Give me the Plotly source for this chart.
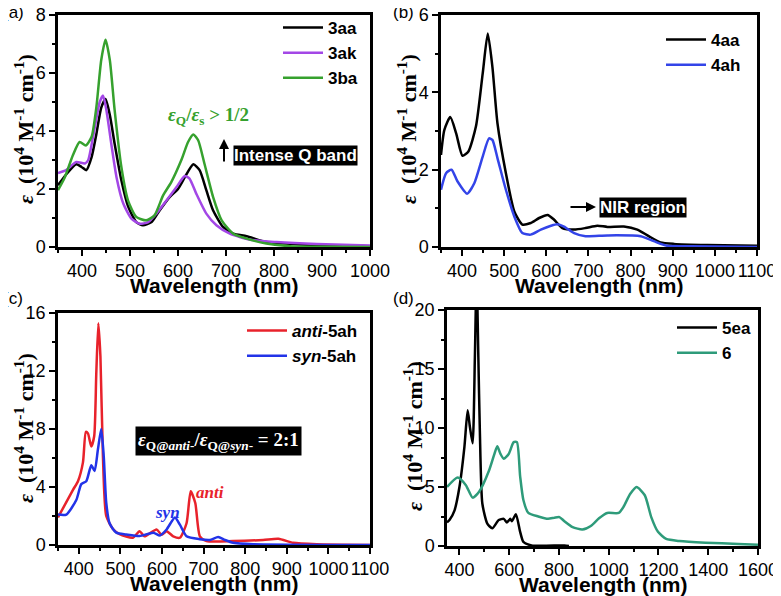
import plotly.graph_objects as go

OFF = 8
FW, FH = 781 - OFF, 596 - OFF

# ---------------- data ----------------
# (a)
wl_3aa = [350, 367, 388, 399, 409, 420, 430, 440, 449, 458, 468, 482, 496, 513, 527, 545, 562, 583, 600, 614, 632, 645, 659, 673, 694, 715, 743, 784, 854, 923, 1000]
ep_3aa = [2.13, 2.5, 2.85, 2.76, 2.65, 3.1, 3.9, 4.8, 5.1, 4.55, 3.56, 2.3, 1.4, 0.86, 0.75, 0.86, 1.27, 1.73, 2.0, 2.4, 2.85, 2.65, 1.96, 1.27, 0.69, 0.46, 0.37, 0.17, 0.09, 0.05, 0.03]
wl_3ak = [350, 367, 388, 406, 413, 423, 437, 444, 451, 461, 472, 486, 503, 520, 538, 555, 576, 597, 614, 624, 638, 659, 680, 708, 750, 805, 889, 1000]
ep_3ak = [2.55, 2.65, 2.93, 2.88, 3.0, 3.8, 5.0, 5.22, 4.7, 3.56, 2.4, 1.5, 0.98, 0.8, 0.86, 1.15, 1.6, 2.07, 2.45, 2.36, 1.84, 1.15, 0.75, 0.46, 0.25, 0.17, 0.1, 0.05]
wl_3ba = [350, 364, 381, 395, 408, 420, 430, 440, 449, 458, 468, 482, 496, 513, 534, 551, 569, 586, 607, 621, 632, 642, 655, 673, 691, 715, 743, 784, 833, 923, 1000]
ep_3ba = [1.96, 2.4, 3.16, 3.62, 3.5, 3.8, 4.83, 6.44, 7.15, 6.44, 4.72, 2.76, 1.6, 1.04, 0.92, 1.09, 1.78, 2.24, 3.0, 3.62, 3.88, 3.68, 2.88, 1.73, 0.92, 0.46, 0.29, 0.12, 0.03, 0.01, 0.0]
# (b)
wl_4aa = [350, 358, 372, 386, 401, 415, 433, 449, 461, 472, 484, 504, 524, 543, 563, 583, 603, 618, 638, 666, 693, 721, 745, 784, 816, 843, 871, 903, 982, 1100]
ep_4aa = [2.38, 3.03, 3.36, 2.94, 2.36, 2.47, 3.12, 4.49, 5.52, 4.66, 3.2, 1.91, 0.92, 0.58, 0.62, 0.75, 0.83, 0.71, 0.49, 0.45, 0.49, 0.55, 0.52, 0.53, 0.45, 0.28, 0.12, 0.08, 0.05, 0.03]
wl_4ah = [350, 362, 375, 389, 412, 429, 449, 464, 472, 484, 504, 524, 543, 563, 587, 611, 626, 642, 666, 693, 745, 824, 855, 887, 942, 1100]
ep_4ah = [1.48, 1.91, 2.0, 1.7, 1.38, 1.65, 2.34, 2.81, 2.77, 2.3, 1.48, 0.79, 0.36, 0.32, 0.45, 0.55, 0.59, 0.53, 0.36, 0.28, 0.3, 0.28, 0.15, 0.03, 0.02, 0.0]
# (c)
wl_anti = [350, 386, 398, 410, 417, 422, 430, 437, 442, 447, 452, 458, 466, 482, 498, 530, 546, 558, 587, 599, 611, 627, 643, 659, 669, 680, 691, 707, 771, 843, 880, 915, 972, 1100]
ep_anti = [1.9, 3.8, 4.4, 5.7, 7.8, 7.7, 6.8, 7.5, 11.8, 15.3, 13.0, 6.1, 2.0, 1.1, 0.75, 0.5, 0.95, 0.6, 1.07, 0.7, 0.95, 0.6, 0.5, 1.5, 3.7, 2.9, 0.6, 0.27, 0.27, 0.35, 0.43, 0.15, 0.05, 0.0]
wl_syn = [350, 370, 394, 406, 418, 430, 438, 446, 454, 460, 466, 474, 490, 514, 546, 579, 595, 611, 631, 643, 659, 691, 715, 735, 751, 771, 819, 1012, 1100]
ep_syn = [2.1, 2.1, 3.1, 4.2, 4.4, 5.5, 5.1, 6.6, 8.0, 6.1, 2.9, 1.5, 0.85, 0.73, 0.62, 0.85, 0.66, 1.07, 1.9, 1.4, 0.6, 0.4, 0.35, 0.55, 0.35, 0.15, 0.05, 0.0, 0.0]
# (d)
wl_5ea = [350, 360, 380, 400, 420, 433, 442, 453, 462, 469, 476, 482, 492, 512, 532, 558, 578, 591, 604, 611, 627, 644, 657, 690, 822, 840]
ep_5ea = [2.0, 2.2, 3.0, 5.0, 8.4, 11.5, 10.1, 8.7, 16.0, 23.0, 16.0, 9.8, 3.6, 1.9, 1.5, 2.2, 2.3, 2.0, 2.3, 2.1, 2.7, 1.2, 0.35, 0.05, 0.05, 0.0]
wl_6 = [350, 393, 426, 453, 479, 519, 539, 552, 565, 578, 598, 618, 631, 644, 657, 677, 717, 756, 782, 802, 822, 855, 894, 928, 961, 994, 1040, 1059, 1086, 1112, 1145, 1171, 1198, 1231, 1284, 1389, 1521, 1600]
ep_6 = [5.0, 5.8, 5.15, 4.1, 4.6, 6.4, 7.7, 8.45, 7.8, 7.4, 7.8, 8.8, 8.8, 5.9, 3.9, 2.8, 2.5, 2.3, 2.4, 2.45, 2.1, 1.6, 1.4, 1.7, 2.35, 2.8, 2.8, 3.3, 4.4, 5.0, 4.3, 2.45, 1.2, 0.6, 0.42, 0.28, 0.17, 0.11]

# ---------------- layout helpers (screen px -> paper) ----------------
def px(x):
    return (x - OFF) / FW

def py(y):
    return 1 - (y - OFF) / FH

panels = {
    "a": dict(x=(58, 370), y=(15, 247), xr=[350, 1000], xd=100, xm=50, yr=[0, 8], yd=2, ym=1),
    "b": dict(x=(441, 757), y=(15, 247), xr=[350, 1100], xd=100, xm=50, yr=[0, 6], yd=2, ym=1),
    "c": dict(x=(58, 370), y=(313, 545), xr=[350, 1100], xd=100, xm=50, yr=[0, 16], yd=4, ym=2),
    "d": dict(x=(447, 758), y=(310, 546), xr=[350, 1600], xd=200, xm=100, yr=[0, 20], yd=5, ym=2.5),
}
order = ["a", "b", "c", "d"]

fig = go.Figure()
LW = 2.5

def add(key, x, y, name, color, legend):
    i = order.index(key) + 1
    fig.add_trace(go.Scatter(
        x=x, y=y, name=name, mode="lines",
        line=dict(color=color, width=LW, shape="spline", smoothing=0.6),
        xaxis="x" if i == 1 else f"x{i}", yaxis="y" if i == 1 else f"y{i}",
        legend=legend))

add("a", wl_3aa, ep_3aa, "3aa", "#000000", "legend")
add("a", wl_3ak, ep_3ak, "3ak", "#A347E6", "legend")
add("a", wl_3ba, ep_3ba, "3ba", "#36A12E", "legend")
add("b", wl_4aa, ep_4aa, "4aa", "#000000", "legend2")
add("b", wl_4ah, ep_4ah, "4ah", "#3344E8", "legend2")
add("c", wl_anti, ep_anti, "<i>anti</i>-5ah", "#E8222B", "legend3")
add("c", wl_syn, ep_syn, "<i>syn</i>-5ah", "#2233E8", "legend3")
add("d", wl_5ea, ep_5ea, "5ea", "#000000", "legend4")
add("d", wl_6, ep_6, "6", "#2E9B7A", "legend4")

tickfont = dict(family="Liberation Sans, Arial", size=18, color="black")
layout = dict(
    width=FW, height=FH, margin=dict(l=0, r=0, t=0, b=0, autoexpand=False),
    paper_bgcolor="white", plot_bgcolor="white", showlegend=True,
)
for i, k in enumerate(order, start=1):
    p = panels[k]
    xa = "xaxis" if i == 1 else f"xaxis{i}"
    ya = "yaxis" if i == 1 else f"yaxis{i}"
    xn = "x" if i == 1 else f"x{i}"
    yn = "y" if i == 1 else f"y{i}"
    common = dict(showline=True, linewidth=2.5, linecolor="black", mirror=True,
                  ticks="outside", ticklen=6, tickwidth=1.5, tickcolor="black",
                  showgrid=False, zeroline=False, tickfont=tickfont, automargin=False,
                  ticklabeloverflow="allow")
    layout[xa] = dict(domain=[px(p["x"][0]), px(p["x"][1])], range=p["xr"], anchor=yn,
                      tick0=0, dtick=p["xd"],
                      minor=dict(ticks="outside", ticklen=3, tickwidth=1.5, tickcolor="black", dtick=p["xm"], tick0=0),
                      **common)
    layout[ya] = dict(domain=[py(p["y"][1]), py(p["y"][0])], range=p["yr"], anchor=xn,
                      tick0=0, dtick=p["yd"],
                      minor=dict(ticks="outside", ticklen=3, tickwidth=1.5, tickcolor="black", dtick=p["ym"], tick0=0),
                      **common)

legfont = dict(family="Liberation Sans, Arial", size=17, color="black", weight="bold")
def leg(x, y):
    return dict(x=px(x), y=py(y), xanchor="left", yanchor="top", bgcolor="rgba(0,0,0,0)",
                font=legfont, itemwidth=40, tracegroupgap=0)
layout["legend"] = leg(278, 10)
layout["legend2"] = leg(661, 22)
layout["legend3"] = leg(242, 313)
layout["legend4"] = leg(672, 310)
fig.update_layout(**layout)

ann = []
def text(x, y, t, size=15, color="black", family="Liberation Sans, Arial", angle=0, bold=False, **kw):
    ann.append(dict(x=px(x), y=py(y), xref="paper", yref="paper", text=t, showarrow=False,
                    textangle=angle, font=dict(family=family, size=size, color=color,
                                               weight="bold" if bold else "normal"),
                    xanchor="center", yanchor="middle", **kw))

# panel letters
text(13, 12, "(a)", size=17)
text(403, 12, "(b)", size=17)
text(13, 298, "(c)", size=17)
text(403, 298, "(d)", size=17)

# axis titles
ytitle = "<i>ε</i>\u00a0\u00a0(10<sup>4</sup> M<sup>-1</sup> cm<sup>-1</sup>)"
serif = "Liberation Serif, Times New Roman"
for k, xt, ty in [("a", 285, 129), ("b", 285, 129), ("c", 583, 428), ("d", 584, 436)]:
    p = panels[k]
    text((p["x"][0] + p["x"][1]) / 2, xt, "Wavelength (nm)", size=21, bold=True)
    text(p["x"][0] - 34, ty, ytitle, size=22, family=serif, bold=True, angle=-90)

# panel (a) annotations
text(208, 116, "<i>ε</i><sub>Q</sub>/<i>ε</i><sub>s</sub> > 1/2", size=19, color="#36A12E", family=serif, bold=True)
text(295, 155, "Intense Q band", size=17, color="white", bold=True, bgcolor="black", borderpad=0)
ann.append(dict(x=px(224), y=py(139), xref="paper", yref="paper", ax=0, ay=24,
                axref="pixel", ayref="pixel", text="", showarrow=True, arrowhead=2,
                arrowsize=1, arrowwidth=2, arrowcolor="black"))
# panel (b) annotations
text(643, 207, "NIR region", size=17, color="white", bold=True, bgcolor="black", borderpad=0)
ann.append(dict(x=px(596), y=py(207), xref="paper", yref="paper", ax=-27, ay=0,
                axref="pixel", ayref="pixel", text="", showarrow=True, arrowhead=2,
                arrowsize=1, arrowwidth=2, arrowcolor="black"))
# panel (c) annotations
text(219, 441, "<i>ε</i><sub>Q@<i>anti</i>-</sub>/<i>ε</i><sub>Q@<i>syn</i>-</sub> = 2:1", size=19,
     color="white", family=serif, bold=True, bgcolor="black", borderpad=2)
text(167, 512, "<i>syn</i>", size=17, color="#2233E8", family=serif, bold=True)
text(210, 492, "<i>anti</i>", size=17, color="#E8222B", family=serif, bold=True)

fig.update_layout(annotations=ann)
fig.write_html("out.html")
